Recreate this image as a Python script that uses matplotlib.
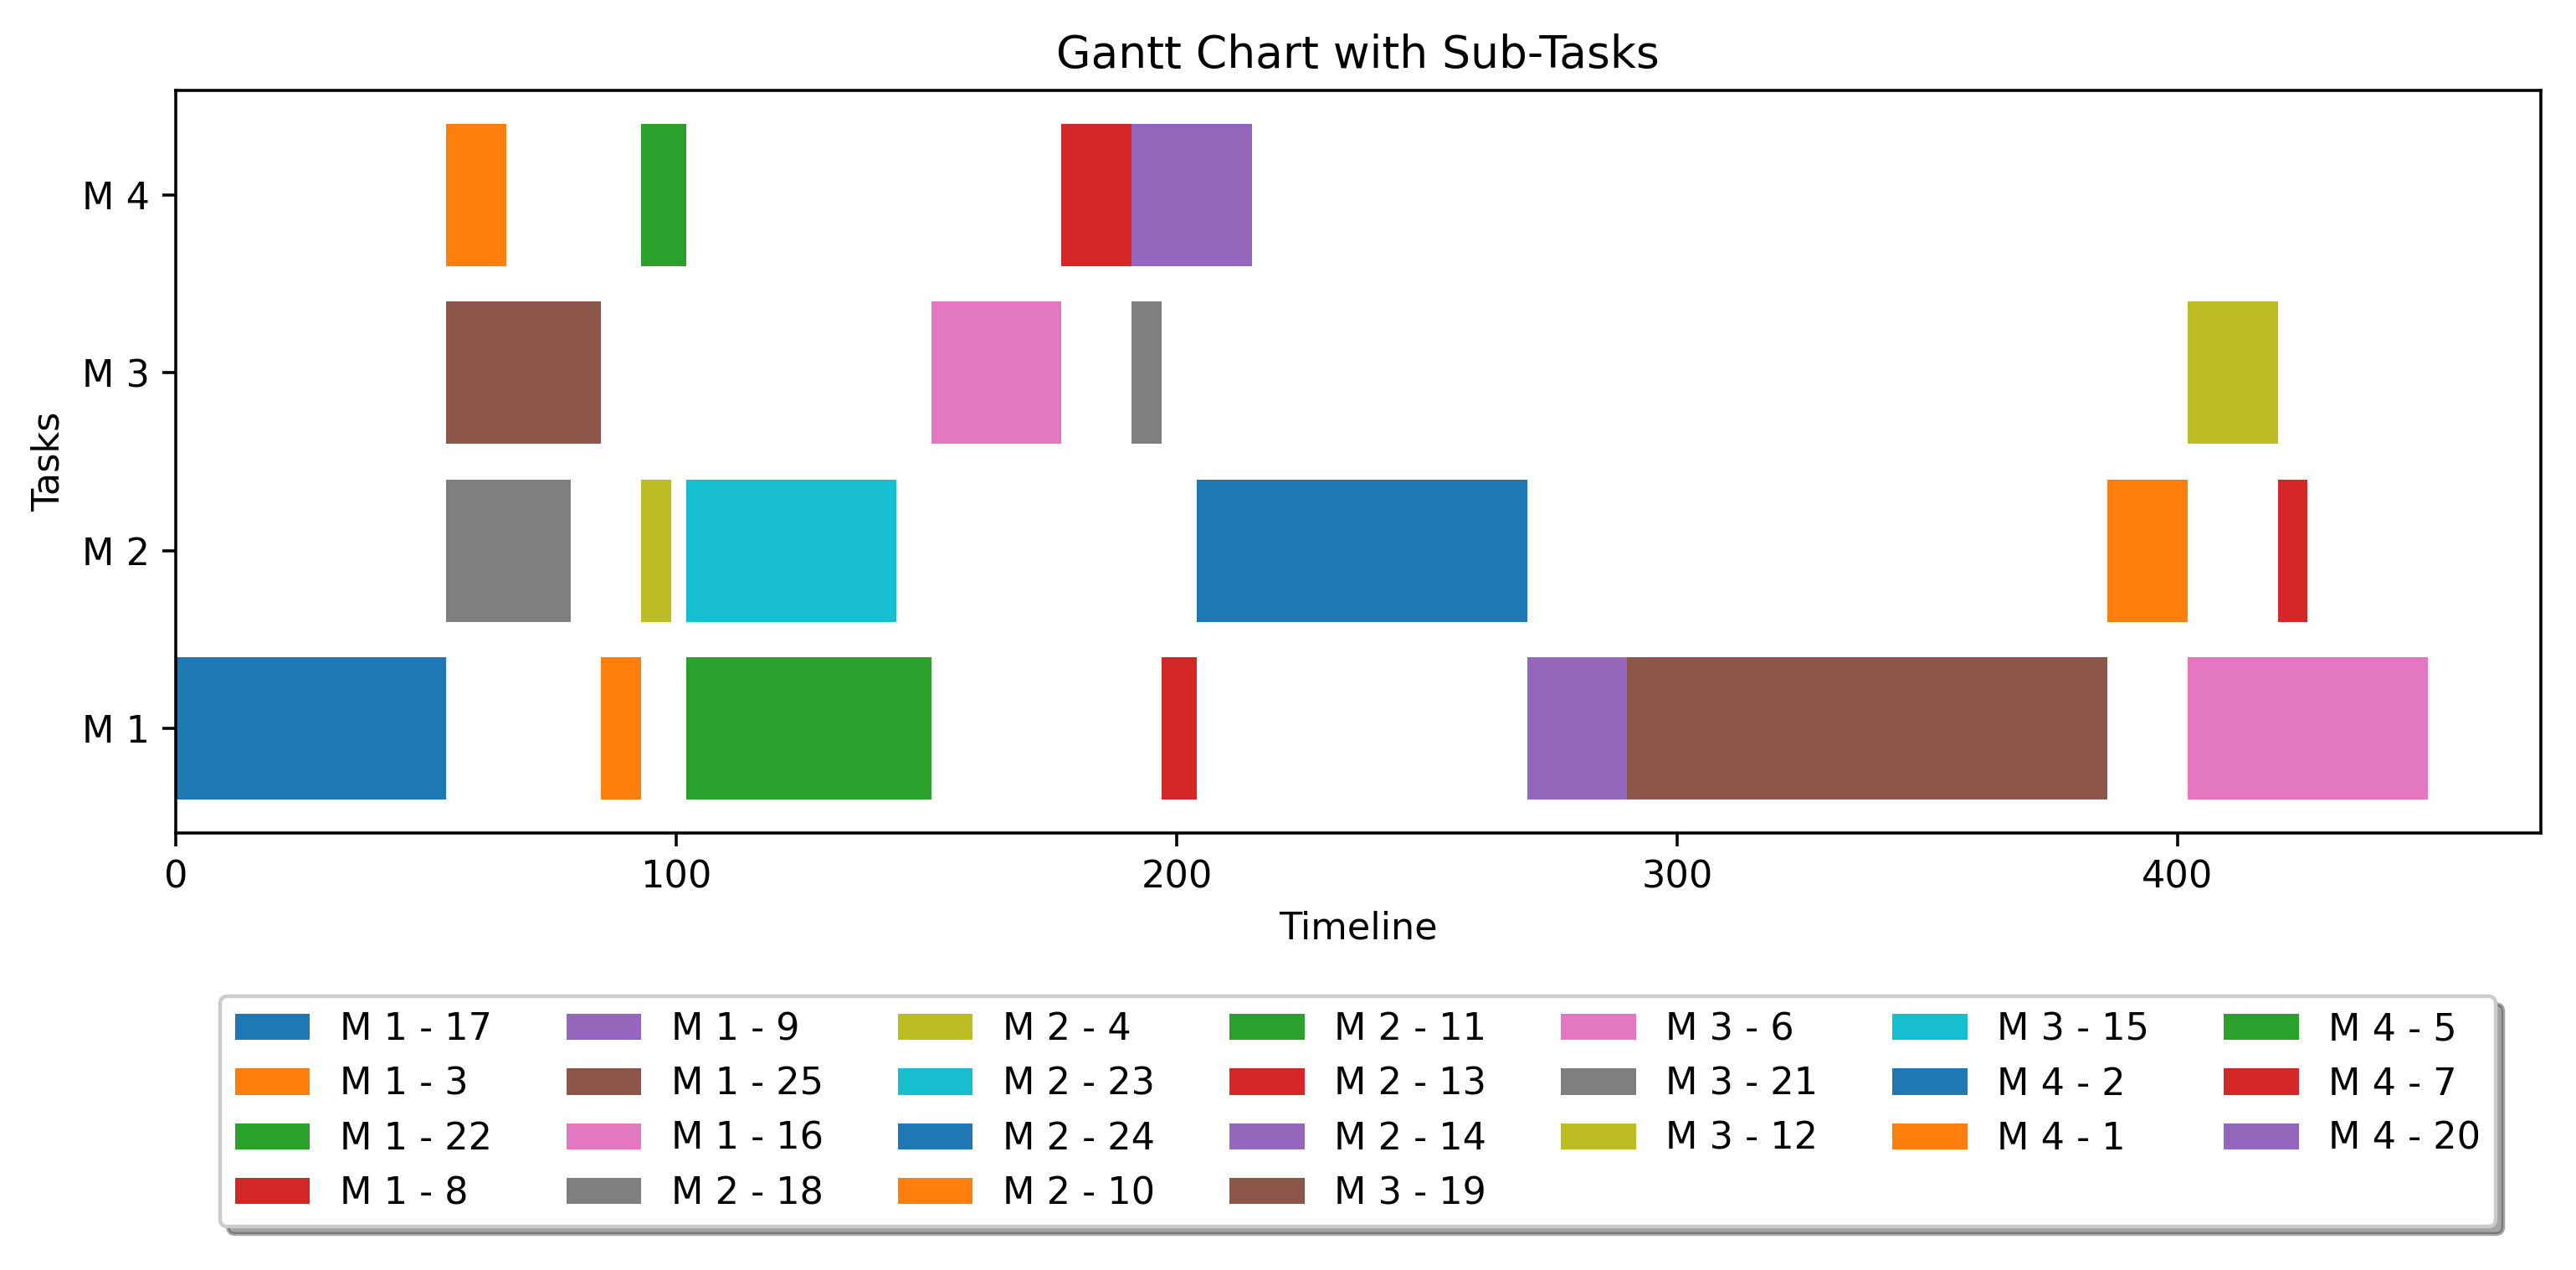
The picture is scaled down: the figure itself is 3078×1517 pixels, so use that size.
import matplotlib
matplotlib.use("Agg")
import matplotlib.pyplot as plt

# machine rows and sub-task labels, in plotting order
machines = ["M 1", "M 2", "M 3", "M 4"]
task_labels = ["M 1 - 17", "M 1 - 3", "M 1 - 22", "M 1 - 8", "M 1 - 9", "M 1 - 25", "M 1 - 16",
               "M 2 - 18", "M 2 - 4", "M 2 - 23", "M 2 - 24", "M 2 - 10", "M 2 - 11", "M 2 - 13", "M 2 - 14",
               "M 3 - 19", "M 3 - 6", "M 3 - 21", "M 3 - 12", "M 3 - 15",
               "M 4 - 2", "M 4 - 1", "M 4 - 5", "M 4 - 7", "M 4 - 20"]
task_row = [1, 1, 1, 1, 1, 1, 1,
            2, 2, 2, 2, 2, 2, 2, 2,
            3, 3, 3, 3, 3,
            4, 4, 4, 4, 4]
task_start = [0, 85, 102, 197, 270, 290, 402,
              54, 93, 102, 204, 386, 402, 420, 426,
              54, 151, 191, 402, 420,
              0, 54, 93, 177, 191]
task_end = [54, 93, 151, 204, 290, 386, 450,
            79, 99, 144, 270, 402, 402, 426, 426,
            85, 177, 197, 420, 420,
            0, 66, 102, 191, 215]

DPI = 321
fig = plt.figure(figsize=(3078 / DPI, 1517 / DPI), dpi=DPI)
ax = fig.add_axes([0.0682, 0.344, 0.918, 0.585])

for lab, r, s, e in zip(task_labels, task_row, task_start, task_end):
    ax.barh(r, e - s, left=s, height=0.8, label=lab)

ax.set_yticks(range(1, len(machines) + 1))
ax.set_yticklabels(machines)
ax.set_xlabel("Timeline")
ax.set_ylabel("Tasks")
ax.set_title("Gantt Chart with Sub-Tasks")
ax.legend(loc="upper center", bbox_to_anchor=(0.5, -0.195), ncol=7, fancybox=True, shadow=True)

fig.savefig("out.png", dpi=DPI)
